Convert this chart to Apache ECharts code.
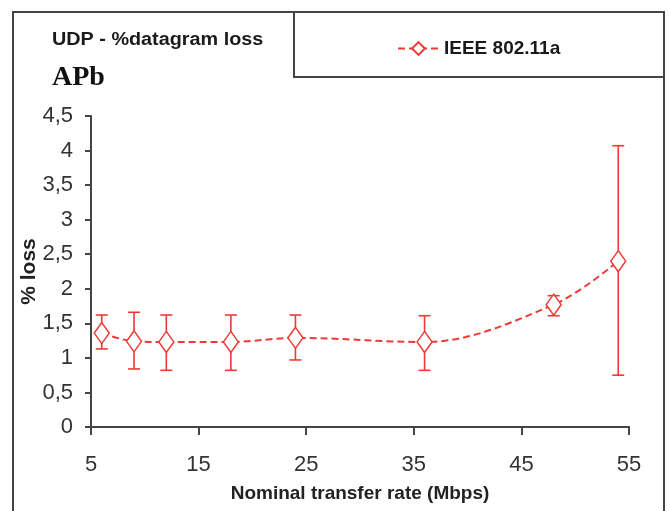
<!DOCTYPE html>
<html><head><meta charset="utf-8">
<script src="https://cdn.jsdelivr.net/npm/echarts@6/dist/echarts.min.js"></script>
<style>html,body{margin:0;padding:0;background:#fff}#c{width:669px;height:511px}</style>
</head><body><div id="c"></div>
<script>
const rates = [6, 9, 12, 18, 24, 36, 48, 54];
const lossMean = [1.36, 1.24, 1.23, 1.23, 1.29, 1.23, 1.77, 2.40];
const lossLow  = [1.13, 0.84, 0.82, 0.82, 0.97, 0.82, 1.61, 0.75];
const lossHigh = [1.62, 1.66, 1.62, 1.62, 1.62, 1.61, 1.90, 4.07];
const xTicks = [5, 15, 25, 35, 45, 55];
const seriesName = 'IEEE 802.11a';

const RED = '#ee3a36';
const FONT = '"Liberation Sans", Arial, sans-serif';
const chart = echarts.init(document.getElementById('c'), null, {renderer: 'canvas'});
const meanData = rates.map((r, i) => [r, lossMean[i]]);
const errData = rates.map((r, i) => [r, lossLow[i], lossHigh[i]]);

chart.setOption({
  animation: false,
  backgroundColor: '#fff',
  grid: {left: 91, right: 40, top: 116, bottom: 84},
  graphic: [
    {type: 'rect', shape: {x: 13, y: 12, width: 651, height: 520}, style: {fill: 'none', stroke: '#444', lineWidth: 2}, z: 0},
    {type: 'rect', shape: {x: 294, y: 12, width: 370, height: 65}, style: {fill: 'none', stroke: '#444', lineWidth: 2}, z: 0},
    {type: 'text', x: 52, y: 31, scaleX: 1.1, style: {text: 'UDP - %datagram loss', font: 'bold 18px ' + FONT, fill: '#1a1a1a', textVerticalAlign: 'top'}},
    {type: 'text', x: 52, y: 64, style: {text: 'APb', font: 'bold 28px "Liberation Serif", "Times New Roman", serif', fill: '#111', textVerticalAlign: 'top'}}
  ],
  legend: {
    data: [seriesName], left: 392, top: 34, itemWidth: 41, itemHeight: 16,
    textStyle: {fontFamily: FONT, fontSize: 19, fontWeight: 'bold', color: '#1a1a1a'}
  },
  xAxis: {
    type: 'value', min: 5, max: 55,
    name: 'Nominal transfer rate (Mbps)', nameLocation: 'middle', nameGap: 57,
    nameTextStyle: {fontFamily: FONT, fontSize: 19, fontWeight: 'bold', color: '#222'},
    axisLine: {show: true, onZero: false, lineStyle: {color: '#444', width: 2}},
    axisTick: {show: true, customValues: xTicks, length: 8, lineStyle: {color: '#444', width: 2}},
    axisLabel: {customValues: xTicks, margin: 27, fontFamily: FONT, fontSize: 22, color: '#333'},
    splitLine: {show: false}
  },
  yAxis: {
    type: 'value', min: 0, max: 4.5, interval: 0.5,
    name: '% loss', nameLocation: 'middle', nameGap: 51, nameRotate: 90, nameMoveOverlap: false,
    nameTextStyle: {fontFamily: FONT, fontSize: 21, fontWeight: 'bold', color: '#222'},
    axisLine: {show: true, lineStyle: {color: '#444', width: 2}},
    axisTick: {show: true, length: 6, lineStyle: {color: '#444', width: 2}},
    axisLabel: {margin: 18, fontFamily: FONT, fontSize: 22, color: '#333',
      formatter: v => String(v).replace('.', ',')},
    splitLine: {show: false}
  },
  series: [
    {
      name: seriesName, type: 'line', data: meanData, smooth: 0.35,
      symbol: 'diamond', symbolSize: [15, 21], showSymbol: true,
      itemStyle: {color: '#fff', borderColor: RED, borderWidth: 1.5},
      lineStyle: {color: RED, width: 2, type: [7, 4]},
      z: 3
    },
    {
      type: 'custom', data: errData, z: 2,
      renderItem: (params, api) => {
        const x = api.value(0);
        const lo = api.coord([x, api.value(1)]);
        const hi = api.coord([x, api.value(2)]);
        const cap = 6;
        const st = {stroke: RED, lineWidth: 1.6};
        return {type: 'group', children: [
          {type: 'line', shape: {x1: lo[0], y1: lo[1], x2: hi[0], y2: hi[1]}, style: st},
          {type: 'line', shape: {x1: lo[0] - cap, y1: lo[1], x2: lo[0] + cap, y2: lo[1]}, style: st},
          {type: 'line', shape: {x1: hi[0] - cap, y1: hi[1], x2: hi[0] + cap, y2: hi[1]}, style: st}
        ]};
      }
    }
  ]
});
</script></body></html>
